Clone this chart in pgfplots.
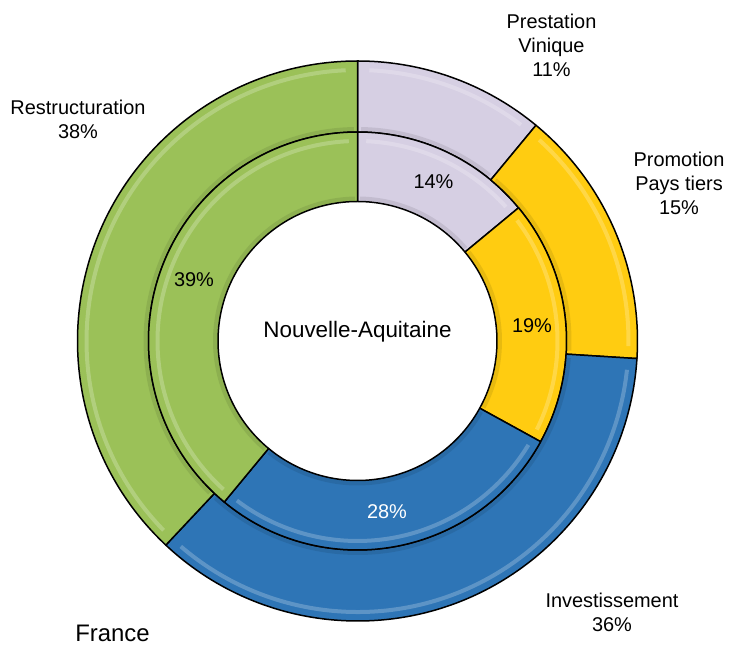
\documentclass[border=0pt]{standalone}
\usepackage{pgfplots}
\pgfplotsset{compat=1.18}
\usepackage{pgfplotstable}
\usepackage{fontspec}
\setmainfont{Liberation Sans}
\definecolor{c0}{RGB}{214,207,227}
\definecolor{c1}{RGB}{255,204,17}
\definecolor{c2}{RGB}{46,117,182}
\definecolor{c3}{RGB}{155,193,88}
\pgfplotstableread{
name france na
Prestation 11 14
Promotion 15 19
Investissement 36 28
Restructuration 38 39
}\datatable
% cumulative angles (clockwise from 12 o'clock)
\newcommand\computeangles[2]{%
  \def\cum{0}%
  \pgfplotsforeachungrouped \i in {0,1,2,3}{%
    \pgfplotstablegetelem{\i}{#1}\of\datatable
    \let\val\pgfplotsretval
    \pgfmathsetmacro\a{90-3.6*\cum}%
    \pgfmathsetmacro\cum{\cum+\val}%
    \pgfmathsetmacro\b{90-3.6*\cum}%
    \expandafter\xdef\csname #2s\i\endcsname{\a}%
    \expandafter\xdef\csname #2e\i\endcsname{\b}%
  }%
}
\computeangles{france}{F}
\computeangles{na}{N}
\def\cx{357.5}\def\cy{305}
% #1 start, #2 end, #3 rin, #4 rout, #5 colour
\newcommand\seg[5]{%
  \fill[#5] (axis cs:\cx,\cy) ++(#1:#4bp) arc[start angle=#1,end angle=#2,radius=#4bp]
     -- ++(#2:{#3bp-#4bp}) arc[start angle=#2,end angle=#1,radius=#3bp] -- cycle;
  % bevel: dark inner rim, light highlight near outer rim
  \draw[#5!75!black,line width=4bp,opacity=0.35] (axis cs:\cx,\cy) ++({#1-1}:{#3bp+3bp}) arc[start angle={#1-1},end angle={#2+1},radius={#3bp+3bp}];
  \draw[#5!55!white,line width=4bp,opacity=0.5] (axis cs:\cx,\cy) ++({#1-2.5}:{#4bp-9bp}) arc[start angle={#1-2.5},end angle={#2+2.5},radius={#4bp-9bp}];
  \draw[black,line width=1.5bp,line join=round] (axis cs:\cx,\cy) ++(#1:#4bp) arc[start angle=#1,end angle=#2,radius=#4bp]
     -- ++(#2:{#3bp-#4bp}) arc[start angle=#2,end angle=#1,radius=#3bp] -- cycle;
}
\begin{document}
\begin{tikzpicture}
\begin{axis}[
  scale only axis, width=729bp, height=646bp,
  xmin=0, xmax=729, ymin=0, ymax=646,
  hide axis, clip=false,
]
\pgfplotsinvokeforeach{0,1,2,3}{%
  \seg{\csname Fs#1\endcsname}{\csname Fe#1\endcsname}{209}{280}{c#1}
  \seg{\csname Ns#1\endcsname}{\csname Ne#1\endcsname}{139.5}{209}{c#1}
}
\begin{scope}[every node/.style={font=\fontsize{20}{24}\selectfont, align=center, text=black, inner sep=0pt}]
\node at (axis cs:551.5,601) {Prestation\\Vinique\\11\%};
\node at (axis cs:679,463) {Promotion\\Pays tiers\\15\%};
\node at (axis cs:612,34) {Investissement\\36\%};
\node at (axis cs:78,527) {Restructuration\\38\%};
\node[font=\fontsize{22.5}{27}\selectfont] at (axis cs:357.5,314) {Nouvelle-Aquitaine};
\node at (axis cs:433.5,464) {14\%};
\node at (axis cs:532,320) {19\%};
\node[text=white] at (axis cs:387,134) {28\%};
\node at (axis cs:194,366.5) {39\%};
\node[font=\fontsize{24}{28}\selectfont] at (axis cs:112.5,13) {France};
\end{scope}
\coordinate (BL) at (axis cs:0,0);
\coordinate (TR) at (axis cs:729,646);
\end{axis}
\pgfresetboundingbox
\path (BL) rectangle (TR);
\end{tikzpicture}
\end{document}
